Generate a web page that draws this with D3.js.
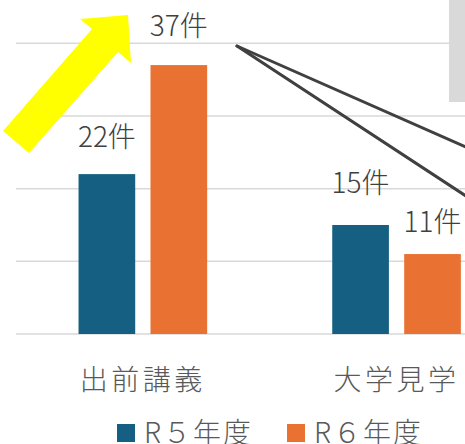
<!DOCTYPE html>
<html>
<head>
<meta charset="utf-8">
<script src="https://cdn.jsdelivr.net/npm/d3@7"></script>
<style>
  body { margin: 0; background: #fff; }
  svg { display: block; font-family: "Noto Sans CJK JP", "Noto Sans", sans-serif; }
</style>
</head>
<body>
<script>
// データ
const categories = ['出前講義', '大学見学'];
const seriesNames = ['R５年度', 'R６年度'];
const valuesR5 = [22, 15];
const valuesR6 = [37, 11];
const yTicks = [0, 10, 20, 30, 40];
const unit = '件';

const colors = ['#156082', '#E97132'];
// ラベルの上下ずらし (px)
const labelLift = [[27, 29], [32, 22]];

const W = 465, H = 444;
const svg = d3.select('body').append('svg').attr('width', W).attr('height', H);

const y = d3.scaleLinear().domain([0, 40]).range([334, 43.3]);
const x0 = d3.scaleBand().domain(categories)
    .range([16, 16 + 2 * 253.7])
    .paddingInner(0.493).paddingOuter(0.2465);
const x1 = d3.scaleBand().domain(seriesNames)
    .range([0, x0.bandwidth()])
    .paddingInner(0.2125).paddingOuter(0);

// 目盛線
svg.append('g').selectAll('line')
    .data(yTicks)
    .join('line')
    .attr('x1', 16).attr('x2', W)
    .attr('y1', d => y(d)).attr('y2', d => y(d))
    .attr('stroke', '#d9d9d9').attr('stroke-width', 1.5);

const rows = categories.map((c, i) => ({
    cat: c,
    vals: [valuesR5[i], valuesR6[i]]
}));

const groups = svg.append('g').selectAll('g')
    .data(rows)
    .join('g')
    .attr('transform', d => `translate(${x0(d.cat)},0)`);

groups.selectAll('rect')
    .data(d => d.vals.map((v, j) => ({ v, j })))
    .join('rect')
    .attr('x', d => x1(seriesNames[d.j]))
    .attr('y', d => y(d.v))
    .attr('width', x1.bandwidth())
    .attr('height', d => y(0) - y(d.v))
    .attr('fill', d => colors[d.j]);

groups.selectAll('text')
    .data((d, i) => d.vals.map((v, j) => ({ v, j, lift: labelLift[i][j] })))
    .join('text')
    .attr('x', d => x1(seriesNames[d.j]) + x1.bandwidth() / 2)
    .attr('y', d => y(d.v) - d.lift)
    .attr('text-anchor', 'middle')
    .attr('font-size', 28)
    .attr('font-weight', 300)
    .attr('fill', '#404040')
    .text(d => d.v + unit);

// カテゴリ軸
svg.append('g').selectAll('text')
    .data(categories)
    .join('text')
    .attr('x', d => x0(d) + x0.bandwidth() / 2)
    .attr('y', 390)
    .attr('text-anchor', 'middle')
    .attr('font-size', 28)
    .attr('font-weight', 300)
    .attr('letter-spacing', 3.5)
    .attr('fill', '#595959')
    .text(d => d);

// 凡例
const legendX = [117, 287];
const legend = svg.append('g').selectAll('g')
    .data(seriesNames)
    .join('g')
    .attr('transform', (d, i) => `translate(${legendX[i]},0)`);
legend.append('rect')
    .attr('x', 0).attr('y', 424).attr('width', 18).attr('height', 18)
    .attr('fill', (d, i) => colors[i]);
legend.append('text')
    .attr('x', 27).attr('y', 443)
    .attr('font-size', 28)
    .attr('font-weight', 300)
    .attr('letter-spacing', 2)
    .attr('fill', '#595959')
    .text(d => d);

// 注記: 右上の灰色ボックス
svg.append('rect')
    .attr('x', 449).attr('y', 0).attr('width', 20).attr('height', 102)
    .attr('fill', '#d9d9d9');

// 注記: 引き出し線
svg.append('g').selectAll('line')
    .data([[237, 46, 466, 147], [237, 46, 466, 196]])
    .join('line')
    .attr('x1', d => d[0]).attr('y1', d => d[1])
    .attr('x2', d => d[2]).attr('y2', d => d[3])
    .attr('stroke', '#404040').attr('stroke-width', 3)
    .attr('stroke-linecap', 'round');

// 注記: 黄色の矢印
const arrowPts = [[128, 15], [80, 19], [92, 29], [3, 131], [29, 153], [118, 52], [131, 63]];
svg.append('path')
    .attr('d', d3.line()(arrowPts) + 'Z')
    .attr('fill', '#ffff00');
</script>
</body>
</html>
